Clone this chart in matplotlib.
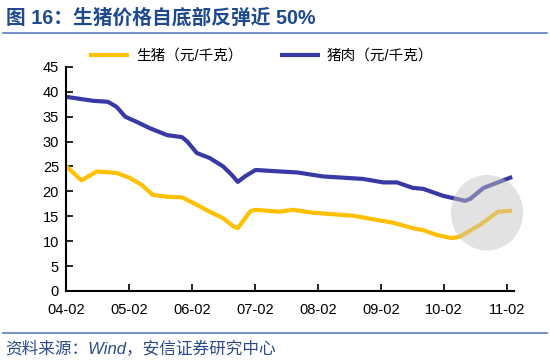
import matplotlib
matplotlib.use("Agg")
import matplotlib.pyplot as plt
import matplotlib.dates as mdates
from matplotlib.patches import Ellipse
import pandas as pd
import numpy as np

plt.rcParams['font.family'] = ['Liberation Sans', 'Noto Sans CJK SC', 'DejaVu Sans']

pork_dates = ['2004-02-01', '2004-07-07', '2004-10-01', '2004-11-20', '2005-01-10', '2005-03-15',
              '2005-06-01', '2005-09-10', '2005-12-05', '2006-01-05', '2006-03-01', '2006-05-15',
              '2006-08-01', '2006-09-20', '2006-10-25', '2006-12-05', '2007-02-05', '2007-06-25',
              '2007-10-05', '2008-03-01', '2008-10-20', '2009-02-15', '2009-05-05', '2009-08-05',
              '2009-10-05', '2010-01-28', '2010-06-05', '2010-07-05', '2010-09-20', '2010-12-05',
              '2011-03-05']
pork_vals = [39.0, 38.2, 38.0, 37.0, 35.0, 34.0, 32.7, 31.3, 30.9, 30.0, 27.7, 26.7,
             25.0, 23.3, 21.9, 23.0, 24.3, 24.0, 23.8, 23.0, 22.5, 21.8, 21.8, 20.7,
             20.5, 19.1, 18.1, 18.5, 20.7, 21.7, 22.9]

hog_dates = ['2004-02-01', '2004-05-01', '2004-07-28', '2004-11-20', '2005-02-05', '2005-04-15',
             '2005-06-18', '2005-09-10', '2005-12-05', '2006-03-01', '2006-05-15', '2006-08-01',
             '2006-09-28', '2006-10-25', '2007-01-05', '2007-02-05', '2007-06-25', '2007-09-10',
             '2008-01-05', '2008-08-25', '2008-12-01', '2009-04-12', '2009-08-05', '2009-10-05',
             '2009-12-25', '2010-03-20', '2010-05-05', '2010-09-01', '2010-12-12', '2011-03-05']
hog_vals = [25.1, 22.2, 24.0, 23.7, 22.7, 21.3, 19.3, 18.9, 18.8, 17.3, 15.9, 14.6,
            13.0, 12.6, 16.0, 16.3, 15.9, 16.3, 15.7, 15.1, 14.5, 13.7, 12.6, 12.2,
            11.2, 10.6, 10.9, 13.3, 15.9, 16.1]

tick_labels = ['04-02', '05-02', '06-02', '07-02', '08-02', '09-02', '10-02', '11-02']
tick_dates = ['2004-02-01', '2005-02-01', '2006-02-01', '2007-02-01', '2008-02-01',
              '2009-02-01', '2010-02-01', '2011-02-01']
y_ticks = [0, 5, 10, 15, 20, 25, 30, 35, 40, 45]

series_names = ['生猪（元/千克）', '猪肉（元/千克）']
title = '图 16：生猪价格自底部反弹近 50%'
source = '资料来源：Wind，安信证券研究中心'

YELLOW = '#FFC000'
BLUE = '#3939A6'
TITLE_BLUE = '#1F4A8F'

fig = plt.figure(figsize=(5.5, 3.6), dpi=100)
ax = fig.add_axes([0.12, 0.192, 0.815, 0.622])

hd = pd.to_datetime(hog_dates)
pd_ = pd.to_datetime(pork_dates)
ax.plot(hd, hog_vals, color=YELLOW, lw=3.0, solid_capstyle='butt', label=series_names[0])
ax.plot(pd_, pork_vals, color=BLUE, lw=3.0, solid_capstyle='butt', label=series_names[1])

# highlight circle
cx = mdates.date2num(pd.Timestamp('2010-10-10'))
ell = Ellipse((cx, 15.7), width=2 * 6.9 * 30.4, height=2 * 7.6, facecolor='#c4c4c4',
              edgecolor='none', alpha=0.48, zorder=5, clip_on=False)
ax.add_patch(ell)

ax.set_xlim(pd.Timestamp('2004-02-01'), pd.Timestamp('2011-03-17'))
ax.set_ylim(0, 45)
ax.set_yticks(y_ticks)
ax.set_xticks(pd.to_datetime(tick_dates))
ax.set_xticklabels(tick_labels)
ax.tick_params(axis='both', direction='in', length=5, width=1.2, labelsize=10.5, colors='black')
ax.tick_params(axis='x', pad=9)
ax.tick_params(axis='y', pad=5)
for s in ['top', 'right']:
    ax.spines[s].set_visible(False)
for s in ['left', 'bottom']:
    ax.spines[s].set_linewidth(1.5)

leg = fig.legend(loc='center', bbox_to_anchor=(0.475, 0.845), ncol=2, frameon=False,
                 fontsize=10.5, handlelength=2.7, columnspacing=2.6, handletextpad=0.5)

fig.text(0.01, 0.95, title, fontsize=14.2, fontweight='bold', color=TITLE_BLUE,
         va='center', ha='left')
fig.add_artist(plt.Line2D([0.005, 0.995], [0.907, 0.907], color='#5B7FBF', lw=1.2))
fig.add_artist(plt.Line2D([0.005, 0.995], [0.075, 0.075], color='#5B7FBF', lw=1.2))
fig.text(0.01, 0.033, source, fontsize=12, color='#2A4A8A', style='italic',
         va='center', ha='left')

fig.savefig('out.png', dpi=100)
